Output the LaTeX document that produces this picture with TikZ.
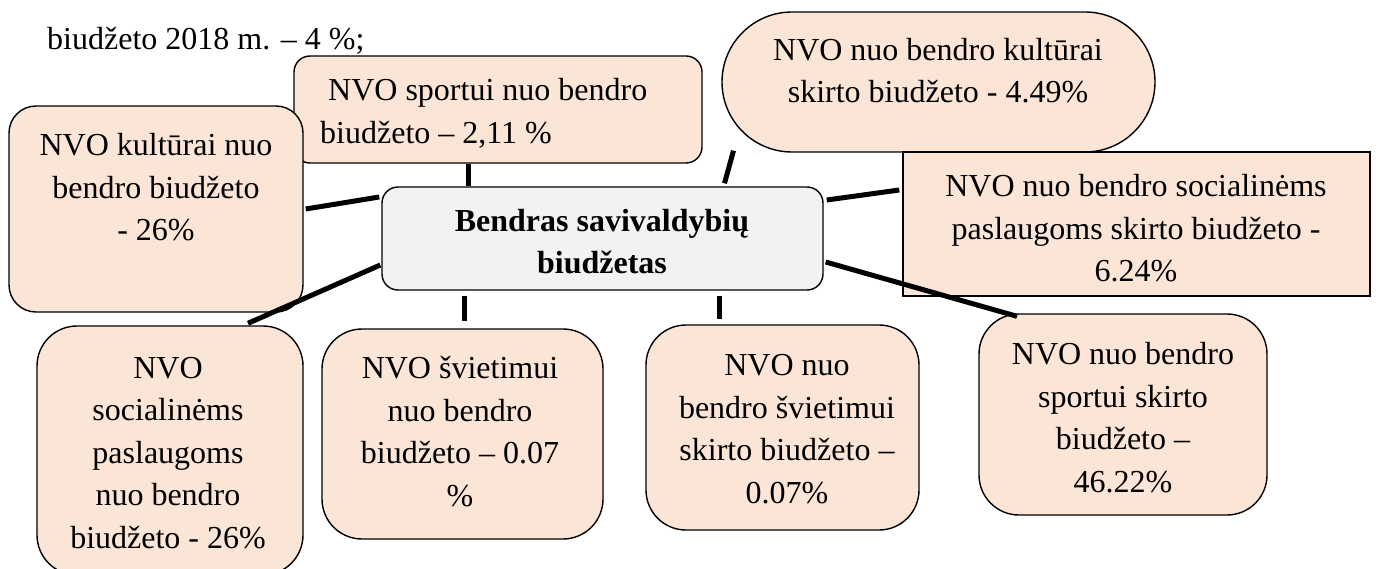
\documentclass[tikz,border=0pt]{standalone}
\usepackage{fontspec}
\setmainfont{Liberation Serif}
\usetikzlibrary{calc}
\definecolor{peach}{HTML}{FBE5D6}
\definecolor{centgray}{HTML}{F2F2F2}
\begin{document}
\begin{tikzpicture}[x=1pt,y=-1pt,
  box/.style={draw=black, line width=1.4pt, fill=peach, rounded corners=#1, inner sep=0pt},
  box/.default=30pt,
  txt/.style={font=\fontsize{32}{42.5}\selectfont, align=center, inner sep=0pt, anchor=base},
  conn/.style={draw=black, line width=5pt}]
\useasboundingbox (0,0) rectangle (1384,569);
% top text
\node[txt, anchor=base west] (top) at (47,50) {biudžeto 2018 m. – 4 \%;};
% boxes
\node[box=16pt, minimum width=408, minimum height=107] (sp) at (498,109.5) {};
\node[box=27pt, minimum width=294, minimum height=206] (kult) at (156,209) {};
\node[box=70pt, minimum width=433, minimum height=140] (oval) at (938.5,82) {};
\node[box=16pt, fill=centgray, minimum width=441, minimum height=103] (c) at (602.5,238.5) {};
\node[box=0pt, minimum width=467, minimum height=144] (soc) at (1136.5,224) {};
\node[box=40pt, minimum width=266, minimum height=249] (bl) at (170,450.5) {};
\node[box=40pt, minimum width=281, minimum height=210] (sv) at (462.5,434) {};
\node[box=40pt, minimum width=273, minimum height=205] (nbs) at (782.5,427.5) {};
\node[box=40pt, minimum width=288, minimum height=201] (sk) at (1123,414.5) {};
% texts (anchored at the baseline of their last line)
\node[txt] (kult-t) at (156,241) {NVO kultūrai nuo\\bendro biudžeto\\- 26\%};
\node[txt, anchor=base west, align=left] (sp-t) at (320,143.5) {\ NVO sportui nuo bendro\\biudžeto – 2,11 \%};
\node[txt] (oval-t) at (938,103) {NVO nuo bendro kultūrai\\skirto biudžeto - 4.49\%};
\node[txt, font=\fontsize{32}{42}\selectfont\bfseries] (c-t) at (602,274) {Bendras savivaldybių\\biudžetas};
\node[txt] (soc-t) at (1136,282) {NVO nuo bendro socialinėms\\paslaugoms skirto biudžeto -\\6.24\%};
\node[txt] (bl-t) at (168,548) {NVO\\socialinėms\\paslaugoms\\nuo bendro\\biudžeto - 26\%};
\node[txt] (sv-t) at (460,506) {NVO švietimui\\nuo bendro\\biudžeto – 0.07\\\%};
\node[txt] (nbs-t) at (787,503) {NVO nuo\\bendro švietimui\\skirto biudžeto –\\0.07\%};
\node[txt] (sk-t) at (1123,492) {NVO nuo bendro\\sportui skirto\\biudžeto –\\46.22\%};
% connectors
\draw[conn] ($(sp.south)+(-30,0)$) -- ($(c.north)+(-134.5,0)$);
\draw[conn] ($(kult.east)+(2,0)$) -- ($(c.west)+(-2,-41.5)$);
\draw[conn] ($(bl.north)+(78,-2)$) -- ($(c.west)+(-1,26.5)$);
\draw[conn] ($(oval.south)+(-205,-2)$) -- ($(c.north)+(122,-3)$);
\draw[conn] ($(soc.west)+(-3,-34)$) -- ($(c.east)+(3,-38.5)$);
\draw[conn] ($(c.east)+(2,23.5)$) -- ($(sk.north)+(-106,3)$);
\draw[conn] ($(c.south)+(-138.5,5)$) -- ($(sv.north)+(1.5,-7)$);
\draw[conn] ($(c.south)+(116.5,5)$) -- ($(nbs.north)+(-63.5,-5)$);
\end{tikzpicture}
\end{document}
